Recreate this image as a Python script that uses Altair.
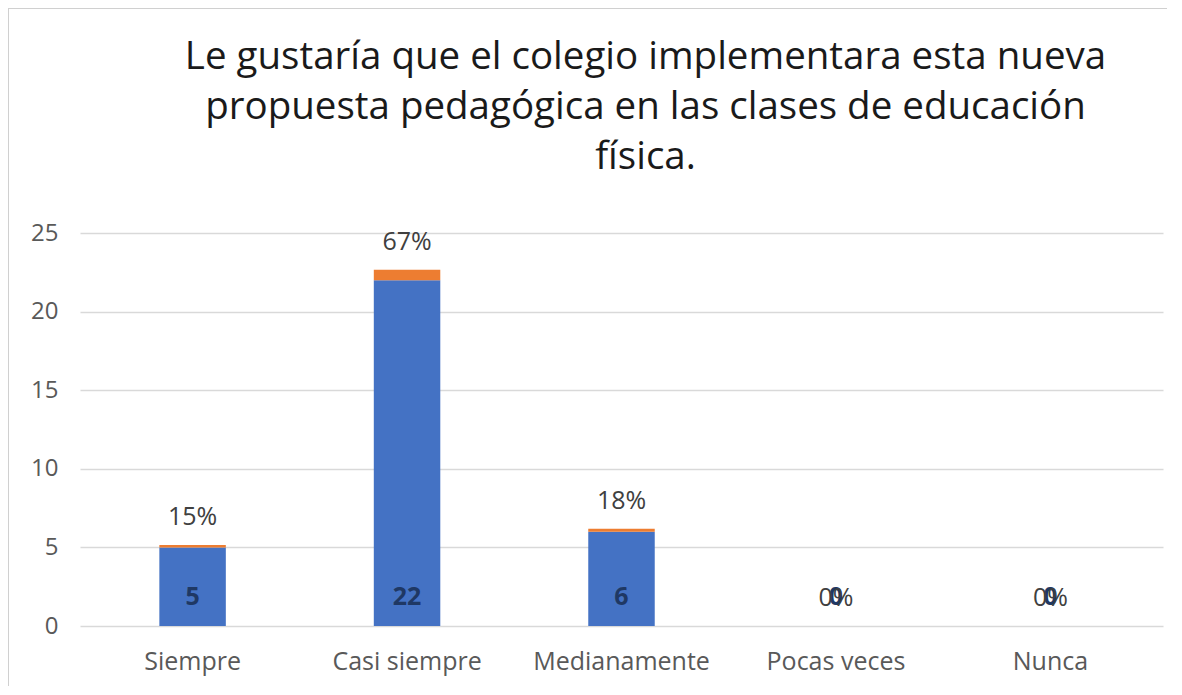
import altair as alt
import pandas as pd

categories = ["Siempre", "Casi siempre", "Medianamente", "Pocas veces", "Nunca"]
counts = [5, 22, 6, 0, 0]
percents = [0.15, 0.67, 0.18, 0.0, 0.0]
pct_labels = ["15%", "67%", "18%", "0%", "0%"]

df = pd.DataFrame({
    "cat": categories,
    "count": counts,
    "pct": percents,
    "top": [c + p for c, p in zip(counts, percents)],
    "pct_label": pct_labels,
    "count_label": [str(c) for c in counts],
})

W, H = 1083, 393
FONT = "Open Sans"

x = alt.X("cat:N", sort=categories, title=None,
          scale=alt.Scale(paddingInner=0.69, paddingOuter=0.37),
          axis=alt.Axis(labelAngle=0, ticks=False, domain=False, labelPadding=23,
                        labelFontSize=25, labelColor="#595959", labelFont=FONT))
yscale = alt.Scale(domain=[0, 25], nice=False)

base = alt.Chart(df)

blue = base.mark_bar(color="#4472C4").encode(
    x=x,
    y=alt.Y("count:Q", scale=yscale, title=None,
            axis=alt.Axis(values=[0, 5, 10, 15, 20, 25], ticks=False, domain=False,
                          labelPadding=22, labelFontSize=24, labelColor="#595959",
                          labelFont=FONT, gridColor="#d9d9d9", gridWidth=1.5)),
    y2=alt.datum(0),
)
orange = base.mark_bar(color="#ED7D31").encode(
    x=x, y=alt.Y("top:Q", scale=yscale), y2="count:Q"
)
count_text = base.mark_text(fontSize=25, fontWeight="bold", color="#1F3864",
                            font=FONT, dy=-29, baseline="middle").encode(
    x=x, y=alt.datum(0), text="count_label:N"
)
pct_text = base.mark_text(fontSize=25, color="#404040", font=FONT, dy=-28,
                          baseline="middle").encode(
    x=x, y=alt.Y("top:Q", scale=yscale), text="pct_label:N"
)
frame = base.mark_rect(fill=None, stroke="#d0d0d0", strokeWidth=1.5).encode(
    x=alt.value(-72), x2=alt.value(1160), y=alt.value(-225), y2=alt.value(500)
)

chart = alt.layer(frame, blue, orange, count_text, pct_text).properties(
    width=W, height=H,
    autosize=alt.AutoSizeParams(type="none"),
    padding={"left": 72, "top": 225, "right": 4, "bottom": 60},
    title=alt.TitleParams(
        ["Le gustaría que el colegio implementara esta nueva",
         "propuesta pedagógica en las clases de educación",
         "física."],
        fontSize=38.5, font=FONT, fontWeight="normal", color="#1a1a1a",
        lineHeight=50, anchor="middle", frame="group", dx=24, offset=-170,
    ),
).configure_view(stroke=None)

chart.save("out.html", embed_options={"renderer": "svg", "actions": False})
